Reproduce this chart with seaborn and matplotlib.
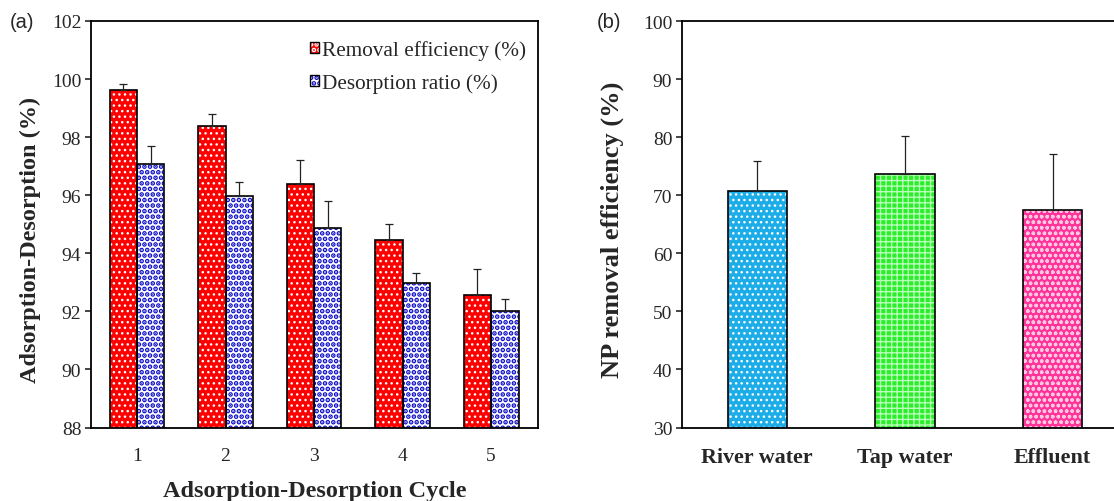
import matplotlib
matplotlib.use("Agg")
import matplotlib.pyplot as plt
from matplotlib.patches import Rectangle, Patch
from matplotlib.legend_handler import HandlerTuple
import seaborn as sns
import pandas as pd

# ---------------- data ----------------
cycles = ["1", "2", "3", "4", "5"]
removal = [99.63, 98.38, 96.40, 94.47, 92.55]
removal_err = [0.21, 0.41, 0.81, 0.55, 0.90]
desorption = [97.09, 95.98, 94.88, 92.99, 92.02]
desorption_err = [0.60, 0.46, 0.91, 0.32, 0.39]
series_names = ["Removal efficiency (%)", "Desorption ratio (%)"]

waters = ["River water", "Tap water", "Effluent"]
np_eff = [70.74, 73.60, 67.37]
np_err = [5.09, 6.63, 9.77]

left_yticks = [88, 90, 92, 94, 96, 98, 100, 102]
right_yticks = [30, 40, 50, 60, 70, 80, 90, 100]

# ---------------- style ----------------
sns.set_theme(style="ticks")
plt.rcParams["font.family"] = ["Liberation Serif", "DejaVu Serif"]
plt.rcParams["axes.linewidth"] = 1.3
plt.rcParams["hatch.linewidth"] = 1.0

fig = plt.figure(figsize=(11.14, 5.02), dpi=100)
axL = fig.add_axes([91 / 1114, 73.5 / 502, 447 / 1114, 406.5 / 502])
axR = fig.add_axes([682 / 1114, 73.5 / 502, 443 / 1114, 406.5 / 502])

def style_bars(ax, patches, face, hatch, hcolor, hlw):
    for p in patches:
        p.set_facecolor(face)
        p.set_hatch(hatch)
        p.set_edgecolor(hcolor)
        p.set_linewidth(0)
        if hasattr(p, "set_hatch_linewidth"):
            p.set_hatch_linewidth(hlw)
        ax.add_patch(Rectangle(p.get_xy(), p.get_width(), p.get_height(),
                               fill=False, ec="black", lw=1.2,
                               zorder=p.get_zorder() + 0.1))

# ---------------- panel (a) ----------------
dfL = pd.DataFrame({
    "cycle": cycles * 2,
    "value": removal + desorption,
    "series": [series_names[0]] * 5 + [series_names[1]] * 5,
})
sns.barplot(data=dfL, x="cycle", y="value", hue="series", ax=axL,
            width=0.62, errorbar=None, legend=False, saturation=1,
            palette=["#FF0000", "#FFFFFF"])

red_bars = list(axL.containers[0])
blue_bars = list(axL.containers[1])
style_bars(axL, red_bars, "#FF0000", "...", "white", 1.0)
plt.rcParams["hatch.linewidth"] = 2.4
style_bars(axL, blue_bars, "white", "...", "#0C0CC8", 2.4)

for bars, vals, errs in ((red_bars, removal, removal_err),
                         (blue_bars, desorption, desorption_err)):
    xs = [b.get_x() + b.get_width() / 2 for b in bars]
    axL.errorbar(xs, vals, yerr=[[0] * len(errs), errs], fmt="none",
                 ecolor="#222222", elinewidth=0.9, capsize=2.8, capthick=0.9,
                 zorder=5)

axL.set_xlim(-0.52, 4.53)
axL.set_ylim(88, 102)
axL.set_yticks(left_yticks)
axL.tick_params(axis="y", direction="out", length=4, width=1.2,
                labelsize=14, pad=3)
axL.tick_params(axis="x", length=0, labelsize=14, pad=14)
for s in axL.spines.values():
    s.set_visible(True)
    s.set_color("black")
axL.set_xlabel("Adsorption-Desorption Cycle", fontsize=17.5,
               fontweight="bold")
axL.xaxis.set_label_coords(0.5, -0.13)
axL.set_ylabel("Adsorption-Desorption (%)", fontsize=17.5,
               fontweight="bold")
axL.yaxis.set_label_coords(-0.112, 0.465)

h_red = (Patch(facecolor="#FF0000", hatch="...", edgecolor="white", lw=0),
         Patch(facecolor="none", edgecolor="black", lw=1.0))
h_blue = (Patch(facecolor="white", hatch="...", edgecolor="#0C0CC8", lw=0),
          Patch(facecolor="none", edgecolor="black", lw=1.0))
axL.legend([h_red, h_blue], series_names, loc="upper left",
           bbox_to_anchor=(0.49, 0.952), frameon=False, fontsize=15.3,
           handlelength=0.4, handleheight=0.4, handletextpad=0.15,
           labelspacing=0.62, borderpad=0, borderaxespad=0,
           handler_map={tuple: HandlerTuple(ndivide=1, pad=0)})

fig.text(10 / 1114, 1 - 23 / 502, "(a)", fontsize=14.5,
         family=["Liberation Sans", "DejaVu Sans"], va="center", ha="left")

# ---------------- panel (b) ----------------
dfR = pd.DataFrame({"water": waters, "eff": np_eff})
sns.barplot(data=dfR, x="water", y="eff", ax=axR, width=0.4,
            errorbar=None, saturation=1, color="#1CADE8")
barsR = list(axR.containers[0])
plt.rcParams["hatch.linewidth"] = 1.0
style_bars(axR, [barsR[0]], "#1CADE8", "...", "white", 1.0)
style_bars(axR, [barsR[1]], "#2BEE2B", "+++", "#B8FFB8", 1.0)
style_bars(axR, [barsR[2]], "#FF3399", "ooo", "#FFC6E2", 1.0)

xsR = [b.get_x() + b.get_width() / 2 for b in barsR]
axR.errorbar(xsR, np_eff, yerr=[[0] * 3, np_err], fmt="none",
             ecolor="#222222", elinewidth=0.9, capsize=3.2, capthick=0.9,
             zorder=5)

axR.set_xlim(-0.51, 2.49)
axR.set_ylim(30, 100)
axR.set_yticks(right_yticks)
axR.tick_params(axis="y", direction="out", length=4, width=1.2,
                labelsize=14, pad=3)
axR.tick_params(axis="x", length=0, labelsize=15.8, pad=14)
for lbl in axR.get_xticklabels():
    lbl.set_fontweight("bold")
for s in axR.spines.values():
    s.set_visible(True)
    s.set_color("black")
axR.set_xlabel("")
axR.set_ylabel("NP removal efficiency (%)", fontsize=19,
               fontweight="bold")
axR.yaxis.set_label_coords(-0.13, 0.49)

fig.text(597 / 1114, 1 - 23 / 502, "(b)", fontsize=14.5,
         family=["Liberation Sans", "DejaVu Sans"], va="center", ha="left")

fig.savefig("out.png", dpi=100, facecolor="white")
